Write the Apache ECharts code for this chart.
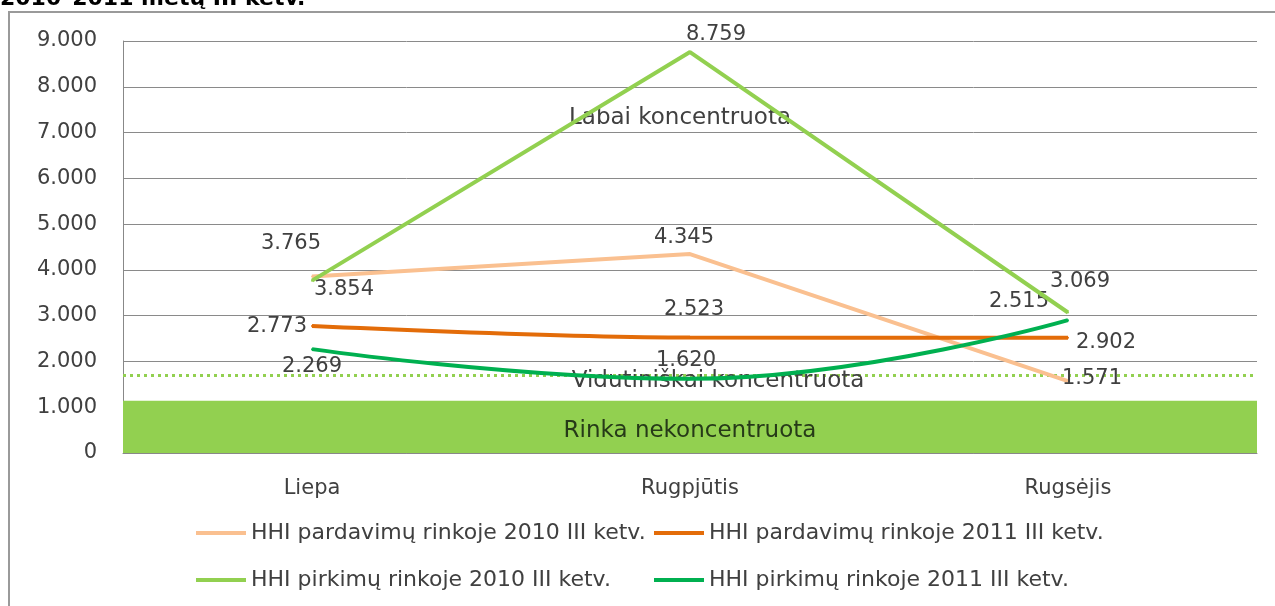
<!DOCTYPE html>
<html>
<head>
<meta charset="utf-8">
<script src="https://cdn.jsdelivr.net/npm/echarts@6/dist/echarts.min.js"></script>
<style>
html,body{margin:0;padding:0;background:#fff;}
#chart{width:1275px;height:606px;}
</style>
</head>
<body>
<div id="chart"></div>
<script>
// ---- data ----
var categories = ['Liepa', 'Rugpjūtis', 'Rugsėjis'];
var seriesNames = [
  'HHI pardavimų rinkoje 2010 III ketv.',
  'HHI pardavimų rinkoje 2011 III ketv.',
  'HHI pirkimų rinkoje 2010 III ketv.',
  'HHI pirkimų rinkoje 2011 III ketv.'
];
var pard2010 = [3854, 4345, 1571];
var pard2011 = [2773, 2523, 2515];
var pirk2010 = [3765, 8759, 3069];
var pirk2011 = [2269, 1620, 2902];
var yTicks = [0, 1000, 2000, 3000, 4000, 5000, 6000, 7000, 8000, 9000];
var bandTop = 1140;          // "Rinka nekoncentruota" zone
var moderateLine = 1700;     // dotted threshold line
var labaiValue = 7314;       // annotation anchor value
var vidutValue = 1572;       // annotation anchor value
var titleText = '2010–2011 metų III ketv.';

// ---- styles (kept separate from data) ----
var colors = ['#fac090', '#e36c09', '#92d050', '#00b050'];
var smooth = [false, 0.35, false, 0.45];
var labelOffsets = [
  [[32, 13], [-6, -17], [24, -3]],
  [[-35, 0], [4, -28], [-49, -36]],
  [[-21, -37], [26, -17], [12, -31]],
  [[0, 17], [-4, -18], [38, 22]]
];
var FONT = 'DejaVu Sans';
var TXT = '#404040';

function fmt(v) {
  if (v === 0) return '0';
  var s = String(Math.round(v));
  return s.replace(/\B(?=(\d{3})+(?!\d))/g, '.');
}

var values = [pard2010, pard2011, pirk2010, pirk2011];

var series = values.map(function (arr, si) {
  return {
    name: seriesNames[si],
    type: 'line',
    smooth: smooth[si],
    symbol: 'circle',
    symbolSize: 2,
    itemStyle: { color: colors[si] },
    lineStyle: { color: colors[si], width: 4 },
    z: 5 + si,
    data: arr.map(function (v, i) {
      return {
        value: v,
        label: {
          show: true,
          position: 'inside',
          offset: labelOffsets[si][i],
          formatter: function (p) { return fmt(p.value); },
          color: TXT,
          fontFamily: FONT,
          fontSize: 21
        }
      };
    })
  };
});

series[0].markArea = {
  silent: true,
  itemStyle: { color: '#92d050', opacity: 1 },
  label: {
    show: true,
    position: 'inside',
    offset: [0, 4],
    color: '#263a18',
    fontFamily: FONT,
    fontSize: 23
  },
  data: [[{ name: 'Rinka nekoncentruota', yAxis: 0 }, { yAxis: bandTop }]]
};
series[0].markLine = {
  silent: true,
  symbol: 'none',
  lineStyle: { color: '#92d050', type: [3, 4], width: 3 },
  label: { show: false },
  data: [{ yAxis: moderateLine }]
};
series[0].markPoint = {
  silent: true,
  symbol: 'circle',
  symbolSize: 1,
  itemStyle: { color: 'rgba(0,0,0,0)' },
  label: { show: true, position: 'inside', color: TXT, fontFamily: FONT, fontSize: 23 },
  data: [
    { coord: [categories[1], labaiValue], label: { formatter: 'Labai koncentruota', offset: [-10, 0] } },
    { coord: [categories[1], vidutValue], label: { formatter: 'Vidutiniškai koncentruota', offset: [28, 0] } }
  ]
};

var legendPos = [[196, 522], [654, 522], [196, 569], [654, 569]];
var legends = seriesNames.map(function (n, i) {
  return {
    data: [n],
    left: legendPos[i][0],
    top: legendPos[i][1],
    padding: 0,
    icon: 'rect',
    itemWidth: 50,
    itemHeight: 4,
    itemGap: 0,
    selectedMode: false,
    textStyle: { color: TXT, fontFamily: FONT, fontSize: 22 }
  };
});

var chart = echarts.init(document.getElementById('chart'), null, { renderer: 'canvas' });
chart.setOption({
  animation: false,
  backgroundColor: '#fff',
  textStyle: { fontFamily: FONT },
  grid: { left: 123, right: 18, top: 41, bottom: 153, containLabel: false },
  legend: legends,
  xAxis: {
    type: 'category',
    data: categories,
    boundaryGap: true,
    axisLine: { show: true, lineStyle: { color: '#888', width: 1 } },
    axisTick: { show: false },
    axisLabel: { margin: 25, color: TXT, fontFamily: FONT, fontSize: 21 }
  },
  yAxis: {
    type: 'value',
    min: yTicks[0],
    max: yTicks[yTicks.length - 1],
    interval: yTicks[1] - yTicks[0],
    axisLine: { show: true, lineStyle: { color: '#888', width: 1 } },
    axisTick: { show: false },
    splitLine: { show: true, lineStyle: { color: '#8a8a8a', width: 1 } },
    axisLabel: { margin: 26, color: TXT, fontFamily: FONT, fontSize: 21, formatter: fmt }
  },
  graphic: [
    {
      type: 'rect',
      shape: { x: 9, y: 12, width: 1300, height: 700 },
      style: { fill: 'none', stroke: '#9a9a9a', lineWidth: 2 },
      silent: true, z: -1
    },
    {
      type: 'text',
      x: 0, y: 10,
      style: { text: titleText, font: 'bold 22px ' + FONT, fill: '#000', verticalAlign: 'bottom' },
      silent: true
    }
  ],
  series: series
});
</script>
</body>
</html>
